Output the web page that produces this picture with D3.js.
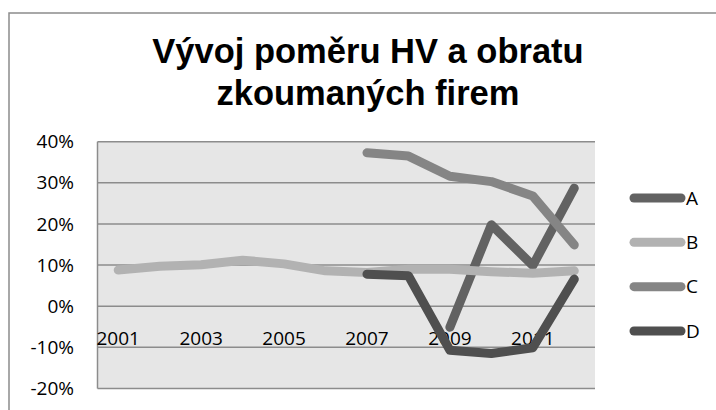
<!DOCTYPE html>
<html>
<head>
<meta charset="utf-8">
<script src="https://cdn.jsdelivr.net/npm/d3@7"></script>
<style>
  html, body { margin: 0; padding: 0; background: #ffffff; }
  svg { display: block; }
</style>
</head>
<body>
<svg id="chart" width="716" height="410"></svg>
<script>
// ---- data ----
const years = ["2001","2002","2003","2004","2005","2006","2007","2008","2009","2010","2011","2012"];
const tickYears = ["2001","2003","2005","2007","2009","2011"];
const seriesNames = ["A","B","C","D"];
const valuesA = [null,null,null,null,null,null,null,null,-5.1,19.8,9.9,28.7];
const valuesB = [8.8,9.7,10.1,11.2,10.3,8.6,8.2,9.0,9.0,8.4,8.0,8.6];
const valuesC = [null,null,null,null,null,null,37.3,36.5,31.6,30.3,26.8,14.9];
const valuesD = [null,null,null,null,null,null,7.8,7.4,-10.7,-11.5,-10.1,6.6];
const yTicks = [-20,-10,0,10,20,30,40];
const titleLines = ["Vývoj poměru HV a obratu","zkoumaných firem"];
const colors = ["#626262","#b2b2b2","#858585","#4f4f4f"];

const seriesValues = [valuesA, valuesB, valuesC, valuesD];

const svg = d3.select("#chart");
const plot = {left: 97.5, right: 595, top: 141.7, bottom: 388.5};

// outer chart border
svg.append("rect")
  .attr("x", 9).attr("y", 13).attr("width", 740).attr("height", 430)
  .attr("fill", "#ffffff").attr("stroke", "#8c8c8c").attr("stroke-width", 1.5);

// title
const title = svg.append("text")
  .attr("text-anchor", "middle")
  .attr("font-family", "'Liberation Sans', Arial, sans-serif")
  .attr("font-weight", "bold")
  .attr("font-size", 34.5)
  .attr("fill", "#000");
titleLines.forEach((t, i) => {
  title.append("tspan").attr("x", 368).attr("y", 63 + i * 42).text(t);
});

const x = d3.scaleBand().domain(years).range([plot.left, plot.right]);
const y = d3.scaleLinear().domain([-20, 40]).range([plot.bottom, plot.top]);

// plot background
svg.append("rect")
  .attr("x", plot.left).attr("y", plot.top)
  .attr("width", plot.right - plot.left).attr("height", plot.bottom - plot.top)
  .attr("fill", "#e6e6e6");

// gridlines
svg.append("g").selectAll("line").data(yTicks).join("line")
  .attr("x1", plot.left).attr("x2", plot.right)
  .attr("y1", d => y(d)).attr("y2", d => y(d))
  .attr("stroke", "#8c8c8c").attr("stroke-width", 1.5);

// y axis line
svg.append("line")
  .attr("x1", plot.left).attr("x2", plot.left)
  .attr("y1", plot.top).attr("y2", plot.bottom)
  .attr("stroke", "#8c8c8c").attr("stroke-width", 1.5);

// y axis labels
const yAxis = d3.axisLeft(y).tickValues(yTicks).tickSize(0).tickPadding(0)
  .tickFormat(d => d + "%");
const yg = svg.append("g").attr("transform", `translate(${74},0)`).call(yAxis);
yg.select(".domain").remove();
yg.selectAll("text")
  .attr("font-family", "'Open Sans', sans-serif")
  .attr("font-size", 19).attr("fill", "#000");

// x axis labels (crossing at 0, labels below)
const xAxis = d3.axisBottom(x).tickValues(tickYears).tickSize(0).tickPadding(0);
const xg = svg.append("g").attr("transform", `translate(0,${y(0) + 25})`).call(xAxis);
xg.select(".domain").remove();
xg.selectAll("text")
  .attr("font-family", "'Open Sans', sans-serif")
  .attr("font-size", 19).attr("fill", "#000");

// lines
const line = d3.line()
  .defined(d => d.v !== null)
  .x(d => x(d.year) + x.bandwidth() / 2)
  .y(d => y(d.v));

seriesValues.forEach((vals, i) => {
  const pts = years.map((yr, j) => ({year: yr, v: vals[j]}));
  svg.append("path")
    .datum(pts)
    .attr("d", line)
    .attr("fill", "none")
    .attr("stroke", colors[i])
    .attr("stroke-width", 9)
    .attr("stroke-linecap", "round")
    .attr("stroke-linejoin", "round");
});

// legend
const legY = d3.scalePoint().domain(seriesNames).range([198, 331]);
const leg = svg.append("g");
seriesNames.forEach((n, i) => {
  leg.append("line")
    .attr("x1", 634).attr("x2", 681)
    .attr("y1", legY(n)).attr("y2", legY(n))
    .attr("stroke", colors[i]).attr("stroke-width", 9)
    .attr("stroke-linecap", "round");
  leg.append("text")
    .attr("x", 686).attr("y", legY(n))
    .attr("dy", "0.35em")
    .attr("font-family", "'Open Sans', sans-serif")
    .attr("font-size", 19).attr("fill", "#000")
    .text(n);
});
</script>
</body>
</html>
